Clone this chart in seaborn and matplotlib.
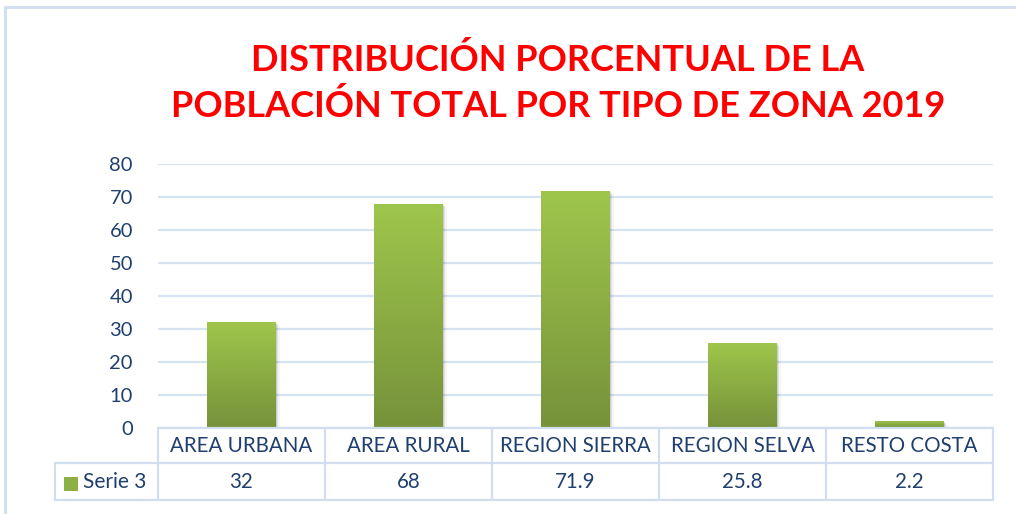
import numpy as np
import pandas as pd
import matplotlib
matplotlib.use("Agg")
import matplotlib.pyplot as plt
import seaborn as sns
from matplotlib.colors import LinearSegmentedColormap
from matplotlib.lines import Line2D
from matplotlib.patches import Rectangle
import matplotlib.transforms as mtransforms

categories = ["AREA URBANA", "AREA RURAL", "REGION SIERRA", "REGION SELVA", "RESTO COSTA"]
values = [32, 68, 71.9, 25.8, 2.2]
value_labels = ["32", "68", "71.9", "25.8", "2.2"]
series_name = "Serie 3"
title = "DISTRIBUCIÓN PORCENTUAL DE LA\nPOBLACIÓN TOTAL POR TIPO DE ZONA 2019"
yticks = [0, 10, 20, 30, 40, 50, 60, 70, 80]

sns.set_style("white")
plt.rcParams['font.family'] = ['Lato', 'DejaVu Sans']

W, H = 1016, 514
fig = plt.figure(figsize=(W / 100, H / 100), dpi=100)
fig.patch.set_facecolor("white")

x0, x1, y0, y1 = 158, 993, 428, 164
ax = fig.add_axes([x0 / W, 1 - y0 / H, (x1 - x0) / W, (y0 - y1) / H])

df = pd.DataFrame({"cat": categories, "val": values})
sns.barplot(data=df, x="cat", y="val", ax=ax, color="#8DB044", width=0.41,
            edgecolor="none", zorder=3)

ax.set_ylim(0, 80)
ax.set_xlim(-0.5, len(categories) - 0.5)
ax.set_yticks(yticks)
ax.set_yticklabels([str(t) for t in yticks])
ax.set_xticks([])
ax.set_xlabel("")
ax.set_ylabel("")
for s in ax.spines.values():
    s.set_visible(False)
grid_c = "#D6E3F3"
ax.yaxis.grid(True, color=grid_c, linewidth=1.6, zorder=0)
txt_c = "#1F3F6E"
ax.tick_params(axis="y", length=0, pad=18, labelsize=14.5, labelcolor=txt_c)

# gradient fill on bars with a soft shadow
cmap = LinearSegmentedColormap.from_list("g", ["#76923A", "#9FC64C"])
grad = np.linspace(0, 1, 256).reshape(-1, 1)
for p in list(ax.patches):
    bx, by = p.get_x(), p.get_y()
    bw, bh = p.get_width(), p.get_height()
    for k, a in enumerate([0.10, 0.07, 0.04]):
        off = 0.008 * (k + 1)
        ax.add_patch(Rectangle((bx + off, by), bw, max(bh - 0.3 * (k + 1), 0),
                               facecolor="black", alpha=a, edgecolor="none",
                               zorder=2.5))
    im = ax.imshow(grad, cmap=cmap, origin="lower", aspect="auto",
                   extent=[bx, bx + bw, by, by + bh], zorder=4)
    im.set_clip_path(p)
    p.set_alpha(0)
ax.set_xlim(-0.5, len(categories) - 0.5)
ax.set_ylim(0, 80)

# data table
line_c = "#D0DEF0"
tr = mtransforms.blended_transform_factory(ax.transData, fig.transFigure)
row1_top = 1 - 428 / H
row1_bot = 1 - 463 / H
row2_bot = 1 - 500 / H
n = len(categories)
for i in range(n + 1):
    xb = i - 0.5
    fig.add_artist(Line2D([xb, xb], [row1_top, row2_bot], transform=tr,
                          color=line_c, lw=1.6))
fig.add_artist(Line2D([x0 / W, x1 / W], [row1_top, row1_top], color=line_c, lw=1.6))
fig.add_artist(Line2D([55 / W, x1 / W], [row1_bot, row1_bot], color=line_c, lw=1.6))
fig.add_artist(Line2D([55 / W, x1 / W], [row2_bot, row2_bot], color=line_c, lw=1.6))
fig.add_artist(Line2D([55 / W, 55 / W], [row1_bot, row2_bot], color=line_c, lw=1.6))

for i, (c, v) in enumerate(zip(categories, value_labels)):
    fig.text(i, (row1_top + row1_bot) / 2, c, transform=tr, ha="center",
             va="center", fontsize=14.8, color=txt_c)
    fig.text(i, (row1_bot + row2_bot) / 2, v, transform=tr, ha="center",
             va="center", fontsize=14.8, color=txt_c)

fig.add_artist(Rectangle((64 / W, 1 - 491 / H), 14 / W, 14 / H,
                         transform=fig.transFigure, facecolor="#8DB044",
                         edgecolor="none"))
fig.text(83 / W, (row1_bot + row2_bot) / 2, series_name, ha="left", va="center",
         fontsize=15, color=txt_c)

# outer frame
fig.add_artist(Line2D([5 / W, 1], [1 - 7 / H, 1 - 7 / H], color=line_c, lw=2))
fig.add_artist(Line2D([5 / W, 5 / W], [0, 1 - 7 / H], color=line_c, lw=2))

fig.text(558 / W, 1 - 83 / H, title, ha="center", va="center", fontsize=26,
         fontweight="bold", color="#FF0000", linespacing=1.4)

fig.savefig("out.png", dpi=100, facecolor="white")
